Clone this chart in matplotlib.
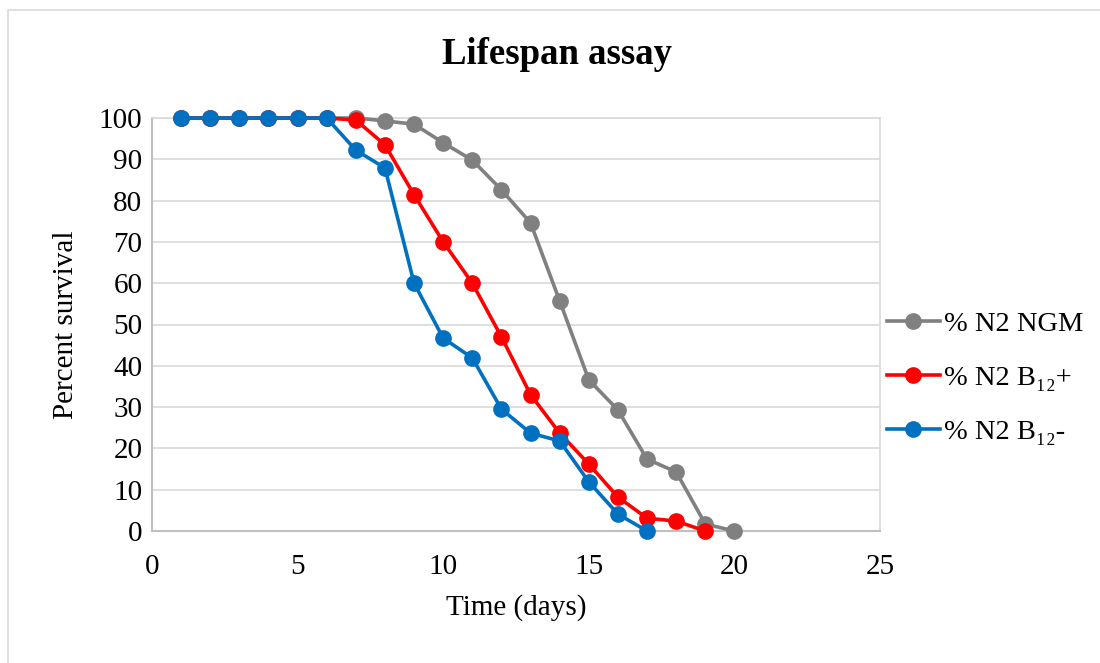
import matplotlib
matplotlib.use("Agg")
import matplotlib.pyplot as plt
from matplotlib.patches import Rectangle

days_ngm = list(range(1, 21))
ngm = [100, 100, 100, 100, 100, 100, 100, 99.3, 98.5, 94, 89.8, 82.6, 74.6, 55.7, 36.6, 29.3, 17.4, 14.3, 1.7, 0]
days_bplus = list(range(1, 20))
bplus = [100, 100, 100, 100, 100, 100, 99.5, 93.5, 81.4, 70, 60, 47, 33, 23.7, 16.2, 8.2, 3.1, 2.4, 0]
days_bminus = list(range(1, 18))
bminus = [100, 100, 100, 100, 100, 100, 92.2, 87.9, 60, 46.7, 41.9, 29.5, 23.7, 21.8, 11.9, 4.1, 0]

labels = ["% N2 NGM", "% N2 B\u2081\u2082+", "% N2 B\u2081\u2082-"]
colors = ["#808080", "#ff0000", "#0070c0"]
xticks = [0, 5, 10, 15, 20, 25]
yticks = list(range(0, 101, 10))

plt.rcParams['font.family'] = ['Liberation Serif', 'DejaVu Serif']

W, H = 1100, 663
fig = plt.figure(figsize=(W / 100, H / 100), dpi=100)
fig.patches.append(Rectangle((8 / W, -0.01), 1.05, 1 - 10 / H + 0.01,
                             transform=fig.transFigure, fill=False,
                             edgecolor="#d9d9d9", linewidth=1.2))

ax = fig.add_axes([152 / W, 1 - 531 / H, (880 - 152) / W, (531 - 118) / H])
for d, v, lab, c in zip([days_ngm, days_bplus, days_bminus], [ngm, bplus, bminus], labels, colors):
    ax.plot(d, v, color=c, linewidth=2.6, marker='o', markersize=11, label=lab, clip_on=False, zorder=3)

ax.set_xlim(0, 25)
ax.set_ylim(0, 100)
ax.set_xticks(xticks)
ax.set_yticks(yticks)
ax.tick_params(length=0, labelsize=21)
ax.tick_params(axis='x', pad=16.5)
ax.tick_params(axis='y', pad=7)
ax.grid(axis='y', color="#d9d9d9", linewidth=1.2)
ax.set_axisbelow(True)
for s in ['top', 'right']:
    ax.spines[s].set_color("#d9d9d9")
    ax.spines[s].set_linewidth(1.2)
for s in ['left', 'bottom']:
    ax.spines[s].set_color("#bfbfbf")
    ax.spines[s].set_linewidth(1.5)

ax.set_xlabel("Time (days)", fontsize=21, labelpad=10)
ax.set_ylabel("Percent survival", fontsize=21, labelpad=14)
fig.text(557 / W, 1 - 55 / H, "Lifespan assay", ha='center', va='center', fontsize=26.5, fontweight='bold')

leg = ax.legend(loc='center left', bbox_to_anchor=((887 - 152) / 728, (531 - 378) / 413),
                frameon=False, fontsize=20.5, handlelength=1.85, labelspacing=0.97,
                handletextpad=0.15, borderaxespad=0, borderpad=0)

fig.savefig("out.png", dpi=100)
